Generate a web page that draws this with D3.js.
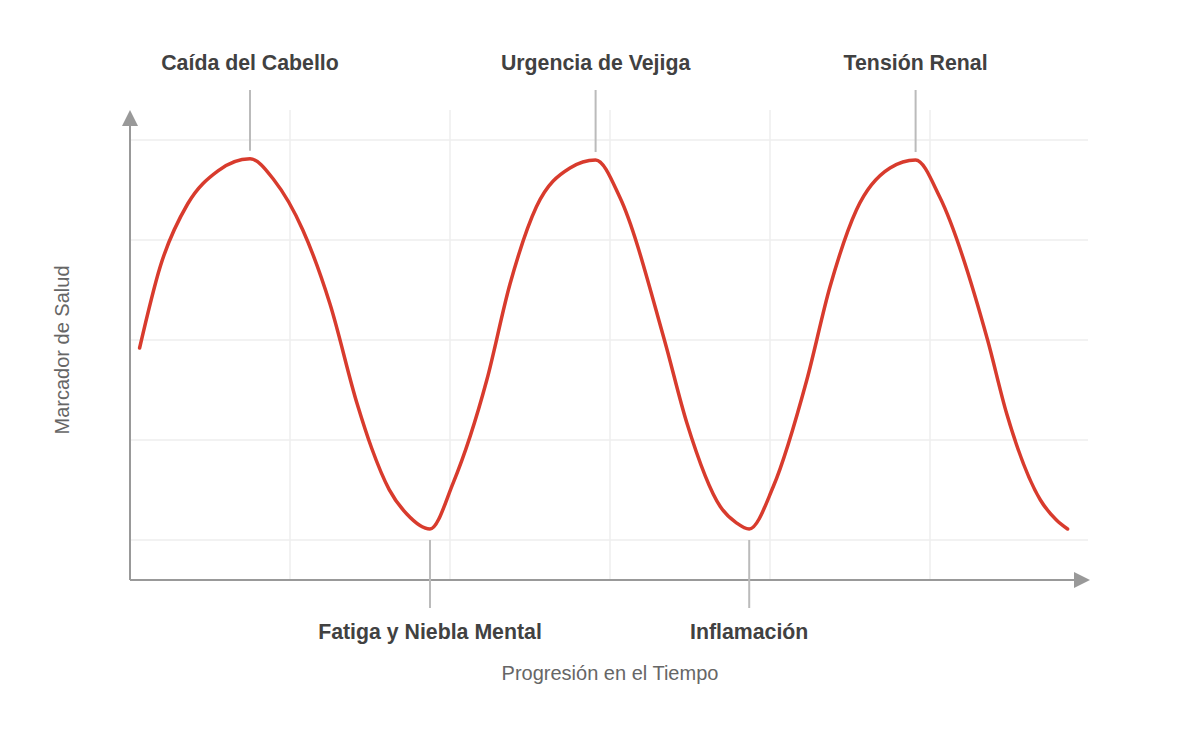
<!DOCTYPE html>
<html>
<head>
<meta charset="utf-8">
<script src="https://cdn.jsdelivr.net/npm/d3@7"></script>
<style>
  body { margin: 0; background: #fff; }
  svg { display: block; font-family: "Liberation Sans", Arial, Helvetica, sans-serif; }
</style>
</head>
<body>
<svg id="chart" width="1180" height="730"></svg>
<script>
// time units along x, health marker along y
var timeValues = [0.6, 1.9, 3.6, 5.5, 7.5, 9, 10.8, 12.5, 14.2, 15.1, 16.2, 17.3, 18.75,
                  20.2, 22.3, 23.75, 25.4, 27.5, 29.1, 30.6, 33.4, 34.8, 36.9, 37.9, 38.7,
                  40.2, 42.3, 43.75, 45.4, 47.5, 49.1, 50.6, 53.6, 54.8, 56.9, 57.9, 58.6];
var healthValues = [48, 68.5, 84, 92.3, 95.3, 90, 77.5, 59, 34, 23, 12.6, 6.5, 2.75,
                    14.3, 40, 64, 83.3, 93, 95, 85.8, 50, 29.3, 8.3, 4.3, 2.75,
                    13.3, 40, 63.3, 82.5, 93, 95, 85.8, 50, 31.5, 10, 5, 2.75];

var xTicks = [10, 20, 30, 40, 50];
var yTicks = [0, 25, 50, 75, 100];

var eventLabels = ["Caída del Cabello", "Fatiga y Niebla Mental", "Urgencia de Vejiga", "Inflamación", "Tensión Renal"];
var eventTimes = [7.5, 18.75, 29.1, 38.7, 49.1];
var eventValues = [95.3, 2.75, 95, 2.75, 95];
var eventSides = ["top", "bottom", "top", "bottom", "top"];

var xTitle = "Progresión en el Tiempo";
var yTitle = "Marcador de Salud";

var svg = d3.select("#chart");

var x = d3.scaleLinear().domain([0, 60]).range([130, 1090]);
var y = d3.scaleLinear().domain([-10, 100]).range([580, 140]);

// grid
svg.append("g").selectAll("line").data(yTicks).join("line")
    .attr("x1", x(0)).attr("x2", x(60) - 2)
    .attr("y1", d => y(d)).attr("y2", d => y(d))
    .attr("stroke", "#eeeeee").attr("stroke-width", 1.5);

svg.append("g").selectAll("line").data(xTicks).join("line")
    .attr("x1", d => x(d)).attr("x2", d => x(d))
    .attr("y1", 110).attr("y2", y(-10))
    .attr("stroke", "#eeeeee").attr("stroke-width", 1.5);

// axes with arrow heads
var axisColor = "#999999";
svg.append("line")
    .attr("x1", x(0)).attr("x2", x(0)).attr("y1", y(-10)).attr("y2", 122)
    .attr("stroke", axisColor).attr("stroke-width", 2);
svg.append("path")
    .attr("d", "M" + x(0) + ",110 L" + (x(0) - 8) + ",126 L" + (x(0) + 8) + ",126 Z")
    .attr("fill", axisColor);
svg.append("line")
    .attr("x1", x(0)).attr("x2", x(60) - 12).attr("y1", y(-10)).attr("y2", y(-10))
    .attr("stroke", axisColor).attr("stroke-width", 2);
svg.append("path")
    .attr("d", "M" + x(60) + "," + y(-10) + " L" + (x(60) - 16) + "," + (y(-10) - 8) + " L" + (x(60) - 16) + "," + (y(-10) + 8) + " Z")
    .attr("fill", axisColor);

// leader lines
var events = eventLabels.map((d, i) => ({label: d, t: eventTimes[i], v: eventValues[i], side: eventSides[i]}));

svg.append("g").selectAll("line").data(events).join("line")
    .attr("x1", d => x(d.t)).attr("x2", d => x(d.t))
    .attr("y1", d => d.side === "top" ? 90 : y(d.v) + 11)
    .attr("y2", d => d.side === "top" ? y(d.v) - 8 : 608)
    .attr("stroke", "#bbbbbb").attr("stroke-width", 2);

// the curve
var points = timeValues.map((t, i) => [t, healthValues[i]]);
var line = d3.line()
    .x(d => x(d[0]))
    .y(d => y(d[1]))
    .curve(d3.curveMonotoneX);

svg.append("path")
    .datum(points)
    .attr("d", line)
    .attr("fill", "none")
    .attr("stroke", "#d83b2d")
    .attr("stroke-width", 3.5)
    .attr("stroke-linecap", "round")
    .attr("stroke-linejoin", "round");

// event labels
svg.append("g").selectAll("text").data(events).join("text")
    .attr("x", d => x(d.t))
    .attr("y", d => d.side === "top" ? 70 : 639)
    .attr("text-anchor", "middle")
    .attr("font-size", 21.3)
    .attr("font-weight", "bold")
    .attr("fill", "#414141")
    .text(d => d.label);

// axis titles
svg.append("text")
    .attr("x", 610).attr("y", 680)
    .attr("text-anchor", "middle")
    .attr("font-size", 20)
    .attr("fill", "#666666")
    .text(xTitle);

svg.append("text")
    .attr("transform", "translate(69,350) rotate(-90)")
    .attr("text-anchor", "middle")
    .attr("font-size", 20)
    .attr("fill", "#666666")
    .text(yTitle);
</script>
</body>
</html>
